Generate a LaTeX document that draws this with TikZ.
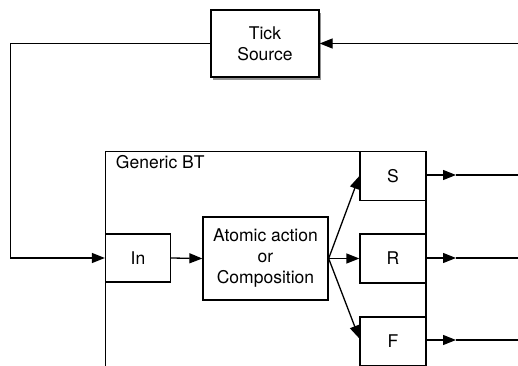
\documentclass[tikz,border=0pt]{standalone}
\usepackage{fontspec}
\setmainfont{TeX Gyre Heros}
\usetikzlibrary{arrows.meta,shadows}
\tikzset{
  blk/.style={draw,fill=white,inner sep=0pt,align=center,line width=1.3pt},
  tickbox/.style={blk,drop shadow={shadow xshift=1.5pt,shadow yshift=-3pt,opacity=0.7,fill=black!60}}
}
\begin{document}
\begin{tikzpicture}[x=1pt,y=-1pt,>={Triangle[length=13pt,width=10pt]},line width=1.3pt,
  font=\fontsize{17.5}{21}\selectfont]
            \clip(0,0)rectangle(518,365);
            \fill[white](0,0)rectangle(518,365);
            % generic BT frame, runs off the bottom
            \draw(105.5,151.5)rectangle(426,380);
            \node[anchor=base west](gbt)at(112,168){Generic BT};
            \node[tickbox,minimum width=108pt,minimum height=67pt](tick)at(265,43.5){Tick\\Source};
            \node[blk,minimum width=65pt,minimum height=48pt](in)at(138,258){In};
            \node[blk,minimum width=125pt,minimum height=83pt](act)at(265.5,258.5){Atomic action\\or\\Composition};
            \node[blk,minimum width=66pt,minimum height=49pt](s)at(393,176){S};
            \node[blk,minimum width=66pt,minimum height=49pt](r)at(393,258.5){R};
            \node[blk,minimum width=66pt,minimum height=49pt](f)at(393,341.5){F};
            \coordinate(tr)at(518,43.5);
            \coordinate(lc)at(10.5,258);
            \draw[->](tr)--(tick.east);
            \draw[->](tick.west)-|(lc)--(in.west);
            \draw[->](in.east)--(act.west);
            \draw[->](act.east)--(s.west);
            \draw[->](act.east)--(r.west);
            \draw[->](act.east)--([yshift=3pt]f.west);
            \foreach \b/\y in{s/175,r/258,f/340}{
              \coordinate(\b m)at(456,\y);
              \coordinate(\b e)at(518,\y);
              \draw[->](\b.east|-\b m)--(\b m);
              \draw(\b m)--(\b e);
            }
        \end{tikzpicture}
\end{document}
